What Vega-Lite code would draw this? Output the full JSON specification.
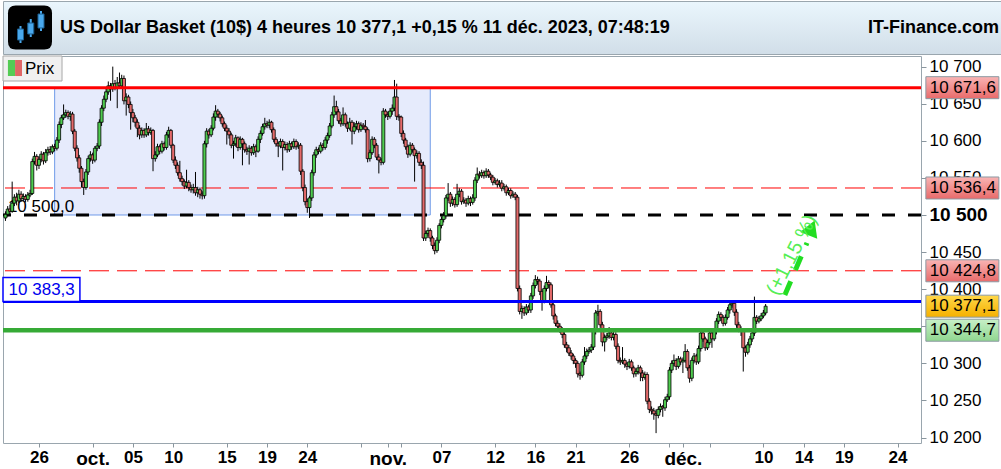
{
"$schema":"https://vega.github.io/schema/vega-lite/v6.json",
"padding":0,"background":"white","spacing":0,
"config":{"font":"Liberation Sans","view":{"stroke":null},"scale":{"continuousPadding":0},"axis":{"labelOverlap":false,"labelFlush":false}},
"datasets":{"candles":[
{"i":-15,"o":10496,"h":10505,"l":10492,"c":10501},{"i":-14,"o":10501,"h":10512,"l":10498,"c":10508},{"i":-13,"o":10508,"h":10514,"l":10501,"c":10505},{"i":-12,"o":10505,"h":10545,"l":10503,"c":10516},{"i":-11,"o":10516,"h":10528,"l":10512,"c":10524},{"i":-10,"o":10524,"h":10530,"l":10513,"c":10519},{"i":-9,"o":10519,"h":10534,"l":10516,"c":10528},{"i":-8,"o":10528,"h":10532,"l":10518,"c":10522},{"i":-7,"o":10522,"h":10529,"l":10519,"c":10525},{"i":-6,"o":10525,"h":10528,"l":10517,"c":10521},{"i":-5,"o":10521,"h":10531,"l":10518,"c":10527},{"i":-4,"o":10527,"h":10534,"l":10524,"c":10529},{"i":-3,"o":10529,"h":10576,"l":10527,"c":10572},{"i":-2,"o":10572,"h":10585,"l":10568,"c":10579},{"i":-1,"o":10579,"h":10582,"l":10560,"c":10567},
{"i":0,"o":10567,"h":10579,"l":10562,"c":10575},{"i":1,"o":10575,"h":10586,"l":10571,"c":10582},{"i":2,"o":10582,"h":10585,"l":10568,"c":10573},{"i":3,"o":10573,"h":10589,"l":10570,"c":10584},{"i":4,"o":10584,"h":10592,"l":10580,"c":10588},{"i":5,"o":10588,"h":10593,"l":10581,"c":10585},{"i":6,"o":10585,"h":10595,"l":10582,"c":10592},{"i":7,"o":10592,"h":10596,"l":10586,"c":10590},{"i":8,"o":10590,"h":10605,"l":10587,"c":10601},{"i":9,"o":10601,"h":10626,"l":10597,"c":10622},
{"i":10,"o":10622,"h":10635,"l":10617,"c":10631},{"i":11,"o":10631,"h":10649,"l":10628,"c":10635},{"i":12,"o":10635,"h":10642,"l":10631,"c":10638},{"i":13,"o":10638,"h":10641,"l":10629,"c":10633},{"i":14,"o":10633,"h":10640,"l":10627,"c":10636},{"i":15,"o":10636,"h":10639,"l":10609,"c":10613},{"i":16,"o":10613,"h":10616,"l":10586,"c":10590},{"i":17,"o":10590,"h":10594,"l":10572,"c":10577},{"i":18,"o":10577,"h":10581,"l":10557,"c":10563},{"i":19,"o":10563,"h":10566,"l":10537,"c":10545},
{"i":20,"o":10545,"h":10549,"l":10527,"c":10537},{"i":21,"o":10537,"h":10562,"l":10534,"c":10558},{"i":22,"o":10558,"h":10580,"l":10554,"c":10576},{"i":23,"o":10576,"h":10586,"l":10572,"c":10581},{"i":24,"o":10581,"h":10584,"l":10569,"c":10574},{"i":25,"o":10574,"h":10593,"l":10571,"c":10590},{"i":26,"o":10590,"h":10597,"l":10586,"c":10593},{"i":27,"o":10593,"h":10629,"l":10589,"c":10625},{"i":28,"o":10625,"h":10648,"l":10620,"c":10644},{"i":29,"o":10644,"h":10661,"l":10640,"c":10656},
{"i":30,"o":10656,"h":10672,"l":10652,"c":10666},{"i":31,"o":10666,"h":10680,"l":10662,"c":10674},{"i":32,"o":10674,"h":10678,"l":10654,"c":10670},{"i":33,"o":10670,"h":10700,"l":10666,"c":10677},{"i":34,"o":10677,"h":10682,"l":10668,"c":10672},{"i":35,"o":10672,"h":10686,"l":10644,"c":10678},{"i":36,"o":10678,"h":10692,"l":10670,"c":10674},{"i":37,"o":10674,"h":10689,"l":10670,"c":10684},{"i":38,"o":10684,"h":10688,"l":10649,"c":10654},{"i":39,"o":10654,"h":10664,"l":10634,"c":10659},
{"i":40,"o":10659,"h":10662,"l":10644,"c":10649},{"i":41,"o":10649,"h":10653,"l":10615,"c":10638},{"i":42,"o":10638,"h":10643,"l":10625,"c":10631},{"i":43,"o":10631,"h":10635,"l":10619,"c":10625},{"i":44,"o":10625,"h":10629,"l":10605,"c":10617},{"i":45,"o":10617,"h":10621,"l":10602,"c":10608},{"i":46,"o":10608,"h":10618,"l":10604,"c":10614},{"i":47,"o":10614,"h":10617,"l":10604,"c":10608},{"i":48,"o":10608,"h":10624,"l":10605,"c":10616},{"i":49,"o":10616,"h":10620,"l":10607,"c":10611},
{"i":50,"o":10611,"h":10618,"l":10608,"c":10614},{"i":51,"o":10614,"h":10616,"l":10559,"c":10576},{"i":52,"o":10576,"h":10586,"l":10572,"c":10581},{"i":53,"o":10581,"h":10596,"l":10578,"c":10592},{"i":54,"o":10592,"h":10595,"l":10582,"c":10586},{"i":55,"o":10586,"h":10600,"l":10583,"c":10596},{"i":56,"o":10596,"h":10599,"l":10587,"c":10591},{"i":57,"o":10591,"h":10612,"l":10588,"c":10608},{"i":58,"o":10608,"h":10619,"l":10604,"c":10614},{"i":59,"o":10614,"h":10616,"l":10590,"c":10594},
{"i":60,"o":10594,"h":10596,"l":10570,"c":10574},{"i":61,"o":10574,"h":10579,"l":10562,"c":10567},{"i":62,"o":10567,"h":10571,"l":10553,"c":10557},{"i":63,"o":10557,"h":10573,"l":10545,"c":10549},{"i":64,"o":10549,"h":10553,"l":10540,"c":10545},{"i":65,"o":10545,"h":10548,"l":10535,"c":10539},{"i":66,"o":10539,"h":10561,"l":10536,"c":10544},{"i":67,"o":10544,"h":10547,"l":10532,"c":10537},{"i":68,"o":10537,"h":10541,"l":10530,"c":10534},{"i":69,"o":10534,"h":10542,"l":10529,"c":10537},
{"i":70,"o":10537,"h":10558,"l":10526,"c":10530},{"i":71,"o":10530,"h":10538,"l":10524,"c":10534},{"i":72,"o":10534,"h":10537,"l":10522,"c":10528},{"i":73,"o":10528,"h":10532,"l":10521,"c":10526},{"i":74,"o":10526,"h":10600,"l":10522,"c":10596},{"i":75,"o":10596,"h":10617,"l":10591,"c":10613},{"i":76,"o":10613,"h":10616,"l":10603,"c":10608},{"i":77,"o":10608,"h":10621,"l":10605,"c":10617},{"i":78,"o":10617,"h":10637,"l":10614,"c":10632},{"i":79,"o":10632,"h":10648,"l":10627,"c":10640},
{"i":80,"o":10640,"h":10643,"l":10631,"c":10636},{"i":81,"o":10636,"h":10639,"l":10626,"c":10631},{"i":82,"o":10631,"h":10634,"l":10619,"c":10623},{"i":83,"o":10623,"h":10626,"l":10613,"c":10617},{"i":84,"o":10617,"h":10621,"l":10595,"c":10613},{"i":85,"o":10613,"h":10617,"l":10603,"c":10608},{"i":86,"o":10608,"h":10611,"l":10590,"c":10594},{"i":87,"o":10594,"h":10600,"l":10576,"c":10596},{"i":88,"o":10596,"h":10608,"l":10592,"c":10604},{"i":89,"o":10604,"h":10606,"l":10586,"c":10591},
{"i":90,"o":10591,"h":10606,"l":10588,"c":10602},{"i":91,"o":10602,"h":10604,"l":10567,"c":10596},{"i":92,"o":10596,"h":10599,"l":10584,"c":10588},{"i":93,"o":10588,"h":10592,"l":10581,"c":10586},{"i":94,"o":10586,"h":10594,"l":10568,"c":10590},{"i":95,"o":10590,"h":10593,"l":10580,"c":10584},{"i":96,"o":10584,"h":10596,"l":10581,"c":10592},{"i":97,"o":10592,"h":10595,"l":10578,"c":10586},{"i":98,"o":10586,"h":10606,"l":10584,"c":10602},{"i":99,"o":10602,"h":10614,"l":10597,"c":10610},
{"i":100,"o":10610,"h":10623,"l":10607,"c":10619},{"i":101,"o":10619,"h":10631,"l":10615,"c":10623},{"i":102,"o":10623,"h":10627,"l":10617,"c":10621},{"i":103,"o":10621,"h":10629,"l":10617,"c":10625},{"i":104,"o":10625,"h":10627,"l":10611,"c":10615},{"i":105,"o":10615,"h":10618,"l":10598,"c":10602},{"i":106,"o":10602,"h":10605,"l":10592,"c":10596},{"i":107,"o":10596,"h":10599,"l":10578,"c":10593},{"i":108,"o":10593,"h":10603,"l":10590,"c":10599},{"i":109,"o":10599,"h":10602,"l":10560,"c":10591},
{"i":110,"o":10591,"h":10599,"l":10587,"c":10595},{"i":111,"o":10595,"h":10598,"l":10584,"c":10588},{"i":112,"o":10588,"h":10600,"l":10585,"c":10596},{"i":113,"o":10596,"h":10599,"l":10588,"c":10592},{"i":114,"o":10592,"h":10603,"l":10589,"c":10599},{"i":115,"o":10599,"h":10602,"l":10588,"c":10592},{"i":116,"o":10592,"h":10598,"l":10589,"c":10594},{"i":117,"o":10594,"h":10597,"l":10554,"c":10559},{"i":118,"o":10559,"h":10562,"l":10532,"c":10537},{"i":119,"o":10537,"h":10541,"l":10513,"c":10518},
{"i":120,"o":10518,"h":10522,"l":10503,"c":10510},{"i":121,"o":10510,"h":10526,"l":10496,"c":10523},{"i":122,"o":10523,"h":10561,"l":10519,"c":10557},{"i":123,"o":10557,"h":10585,"l":10553,"c":10581},{"i":124,"o":10581,"h":10592,"l":10577,"c":10588},{"i":125,"o":10588,"h":10591,"l":10582,"c":10586},{"i":126,"o":10586,"h":10598,"l":10583,"c":10594},{"i":127,"o":10594,"h":10597,"l":10587,"c":10591},{"i":128,"o":10591,"h":10605,"l":10588,"c":10601},{"i":129,"o":10601,"h":10611,"l":10596,"c":10607},
{"i":130,"o":10607,"h":10624,"l":10604,"c":10620},{"i":131,"o":10620,"h":10639,"l":10617,"c":10635},{"i":132,"o":10635,"h":10661,"l":10631,"c":10646},{"i":133,"o":10646,"h":10654,"l":10635,"c":10639},{"i":134,"o":10639,"h":10643,"l":10623,"c":10627},{"i":135,"o":10627,"h":10631,"l":10619,"c":10623},{"i":136,"o":10623,"h":10645,"l":10620,"c":10635},{"i":137,"o":10635,"h":10638,"l":10619,"c":10623},{"i":138,"o":10623,"h":10626,"l":10612,"c":10617},{"i":139,"o":10617,"h":10631,"l":10614,"c":10625},
{"i":140,"o":10625,"h":10628,"l":10595,"c":10613},{"i":141,"o":10613,"h":10625,"l":10609,"c":10619},{"i":142,"o":10619,"h":10627,"l":10615,"c":10623},{"i":143,"o":10623,"h":10626,"l":10611,"c":10615},{"i":144,"o":10615,"h":10625,"l":10612,"c":10621},{"i":145,"o":10621,"h":10624,"l":10615,"c":10619},{"i":146,"o":10619,"h":10628,"l":10611,"c":10615},{"i":147,"o":10615,"h":10618,"l":10571,"c":10576},{"i":148,"o":10576,"h":10588,"l":10572,"c":10584},{"i":149,"o":10584,"h":10606,"l":10581,"c":10602},
{"i":150,"o":10602,"h":10605,"l":10590,"c":10594},{"i":151,"o":10594,"h":10597,"l":10574,"c":10578},{"i":152,"o":10578,"h":10582,"l":10556,"c":10574},{"i":153,"o":10574,"h":10577,"l":10567,"c":10571},{"i":154,"o":10571,"h":10644,"l":10568,"c":10640},{"i":155,"o":10640,"h":10643,"l":10631,"c":10635},{"i":156,"o":10635,"h":10639,"l":10628,"c":10633},{"i":157,"o":10633,"h":10644,"l":10630,"c":10640},{"i":158,"o":10640,"h":10649,"l":10635,"c":10644},{"i":159,"o":10644,"h":10682,"l":10640,"c":10659},
{"i":160,"o":10659,"h":10677,"l":10628,"c":10633},{"i":161,"o":10633,"h":10636,"l":10627,"c":10632},{"i":162,"o":10632,"h":10634,"l":10605,"c":10610},{"i":163,"o":10610,"h":10614,"l":10596,"c":10601},{"i":164,"o":10601,"h":10604,"l":10588,"c":10592},{"i":165,"o":10592,"h":10595,"l":10577,"c":10582},{"i":166,"o":10582,"h":10598,"l":10579,"c":10594},{"i":167,"o":10594,"h":10597,"l":10584,"c":10588},{"i":168,"o":10588,"h":10591,"l":10545,"c":10580},{"i":169,"o":10580,"h":10587,"l":10576,"c":10583},
{"i":170,"o":10583,"h":10586,"l":10566,"c":10571},{"i":171,"o":10571,"h":10575,"l":10562,"c":10567},{"i":172,"o":10567,"h":10572,"l":10465,"c":10469},{"i":173,"o":10469,"h":10479,"l":10465,"c":10475},{"i":174,"o":10475,"h":10483,"l":10471,"c":10479},{"i":175,"o":10479,"h":10482,"l":10464,"c":10469},{"i":176,"o":10469,"h":10472,"l":10454,"c":10459},{"i":177,"o":10459,"h":10463,"l":10447,"c":10452},{"i":178,"o":10452,"h":10470,"l":10449,"c":10466},{"i":179,"o":10466,"h":10489,"l":10462,"c":10486},
{"i":180,"o":10486,"h":10498,"l":10482,"c":10494},{"i":181,"o":10494,"h":10504,"l":10490,"c":10499},{"i":182,"o":10499,"h":10527,"l":10495,"c":10523},{"i":183,"o":10523,"h":10543,"l":10519,"c":10528},{"i":184,"o":10528,"h":10531,"l":10511,"c":10516},{"i":185,"o":10516,"h":10525,"l":10512,"c":10521},{"i":186,"o":10521,"h":10524,"l":10510,"c":10514},{"i":187,"o":10514,"h":10542,"l":10511,"c":10528},{"i":188,"o":10528,"h":10536,"l":10524,"c":10532},{"i":189,"o":10532,"h":10535,"l":10514,"c":10518},
{"i":190,"o":10518,"h":10524,"l":10515,"c":10520},{"i":191,"o":10520,"h":10523,"l":10511,"c":10516},{"i":192,"o":10516,"h":10526,"l":10513,"c":10522},{"i":193,"o":10522,"h":10525,"l":10512,"c":10517},{"i":194,"o":10517,"h":10528,"l":10514,"c":10523},{"i":195,"o":10523,"h":10551,"l":10519,"c":10547},{"i":196,"o":10547,"h":10564,"l":10543,"c":10555},{"i":197,"o":10555,"h":10559,"l":10549,"c":10553},{"i":198,"o":10553,"h":10561,"l":10550,"c":10557},{"i":199,"o":10557,"h":10560,"l":10549,"c":10553},
{"i":200,"o":10553,"h":10563,"l":10550,"c":10559},{"i":201,"o":10559,"h":10562,"l":10550,"c":10554},{"i":202,"o":10554,"h":10557,"l":10547,"c":10551},{"i":203,"o":10551,"h":10554,"l":10540,"c":10544},{"i":204,"o":10544,"h":10550,"l":10541,"c":10546},{"i":205,"o":10546,"h":10549,"l":10537,"c":10541},{"i":206,"o":10541,"h":10547,"l":10538,"c":10543},{"i":207,"o":10543,"h":10547,"l":10532,"c":10536},{"i":208,"o":10536,"h":10542,"l":10533,"c":10538},{"i":209,"o":10538,"h":10541,"l":10526,"c":10530},
{"i":210,"o":10530,"h":10537,"l":10527,"c":10533},{"i":211,"o":10533,"h":10536,"l":10522,"c":10526},{"i":212,"o":10526,"h":10532,"l":10523,"c":10528},{"i":213,"o":10528,"h":10531,"l":10520,"c":10524},{"i":214,"o":10524,"h":10527,"l":10397,"c":10401},{"i":215,"o":10401,"h":10405,"l":10366,"c":10370},{"i":216,"o":10370,"h":10378,"l":10360,"c":10374},{"i":217,"o":10374,"h":10377,"l":10364,"c":10368},{"i":218,"o":10368,"h":10380,"l":10365,"c":10376},{"i":219,"o":10376,"h":10379,"l":10368,"c":10372},
{"i":220,"o":10372,"h":10395,"l":10368,"c":10391},{"i":221,"o":10391,"h":10409,"l":10387,"c":10405},{"i":222,"o":10405,"h":10419,"l":10401,"c":10413},{"i":223,"o":10413,"h":10417,"l":10406,"c":10411},{"i":224,"o":10411,"h":10414,"l":10392,"c":10397},{"i":225,"o":10397,"h":10400,"l":10371,"c":10384},{"i":226,"o":10384,"h":10405,"l":10381,"c":10401},{"i":227,"o":10401,"h":10418,"l":10397,"c":10409},{"i":228,"o":10409,"h":10412,"l":10401,"c":10406},{"i":229,"o":10406,"h":10409,"l":10375,"c":10379},
{"i":230,"o":10379,"h":10383,"l":10359,"c":10364},{"i":231,"o":10364,"h":10367,"l":10350,"c":10354},{"i":232,"o":10354,"h":10358,"l":10346,"c":10350},{"i":233,"o":10350,"h":10354,"l":10341,"c":10345},{"i":234,"o":10345,"h":10349,"l":10334,"c":10339},{"i":235,"o":10339,"h":10342,"l":10321,"c":10325},{"i":236,"o":10325,"h":10329,"l":10315,"c":10321},{"i":237,"o":10321,"h":10325,"l":10310,"c":10314},{"i":238,"o":10314,"h":10318,"l":10305,"c":10310},{"i":239,"o":10310,"h":10313,"l":10299,"c":10304},
{"i":240,"o":10304,"h":10307,"l":10294,"c":10300},{"i":241,"o":10300,"h":10303,"l":10281,"c":10286},{"i":242,"o":10286,"h":10289,"l":10278,"c":10284},{"i":243,"o":10284,"h":10306,"l":10281,"c":10302},{"i":244,"o":10302,"h":10322,"l":10298,"c":10310},{"i":245,"o":10310,"h":10320,"l":10306,"c":10316},{"i":246,"o":10316,"h":10322,"l":10313,"c":10318},{"i":247,"o":10318,"h":10326,"l":10314,"c":10322},{"i":248,"o":10322,"h":10347,"l":10318,"c":10343},{"i":249,"o":10343,"h":10372,"l":10339,"c":10368},
{"i":250,"o":10368,"h":10379,"l":10364,"c":10370},{"i":251,"o":10370,"h":10373,"l":10348,"c":10352},{"i":252,"o":10352,"h":10356,"l":10323,"c":10329},{"i":253,"o":10329,"h":10339,"l":10316,"c":10335},{"i":254,"o":10335,"h":10341,"l":10331,"c":10337},{"i":255,"o":10337,"h":10349,"l":10333,"c":10341},{"i":256,"o":10341,"h":10344,"l":10331,"c":10335},{"i":257,"o":10335,"h":10343,"l":10331,"c":10339},{"i":258,"o":10339,"h":10342,"l":10319,"c":10323},{"i":259,"o":10323,"h":10327,"l":10300,"c":10304},
{"i":260,"o":10304,"h":10308,"l":10298,"c":10302},{"i":261,"o":10302,"h":10322,"l":10299,"c":10304},{"i":262,"o":10304,"h":10307,"l":10294,"c":10299},{"i":263,"o":10299,"h":10302,"l":10291,"c":10296},{"i":264,"o":10296,"h":10306,"l":10293,"c":10302},{"i":265,"o":10302,"h":10305,"l":10290,"c":10294},{"i":266,"o":10294,"h":10297,"l":10281,"c":10286},{"i":267,"o":10286,"h":10293,"l":10282,"c":10289},{"i":268,"o":10289,"h":10298,"l":10285,"c":10294},{"i":269,"o":10294,"h":10297,"l":10276,"c":10287},
{"i":270,"o":10287,"h":10291,"l":10276,"c":10281},{"i":271,"o":10281,"h":10289,"l":10278,"c":10285},{"i":272,"o":10285,"h":10288,"l":10245,"c":10249},{"i":273,"o":10249,"h":10253,"l":10233,"c":10238},{"i":274,"o":10238,"h":10242,"l":10231,"c":10236},{"i":275,"o":10236,"h":10240,"l":10224,"c":10232},{"i":276,"o":10232,"h":10238,"l":10206,"c":10230},{"i":277,"o":10230,"h":10242,"l":10226,"c":10238},{"i":278,"o":10238,"h":10246,"l":10234,"c":10242},{"i":279,"o":10242,"h":10244,"l":10228,"c":10240},
{"i":280,"o":10240,"h":10255,"l":10236,"c":10251},{"i":281,"o":10251,"h":10259,"l":10248,"c":10255},{"i":282,"o":10255,"h":10295,"l":10251,"c":10291},{"i":283,"o":10291,"h":10304,"l":10287,"c":10300},{"i":284,"o":10300,"h":10312,"l":10296,"c":10304},{"i":285,"o":10304,"h":10307,"l":10291,"c":10296},{"i":286,"o":10296,"h":10310,"l":10293,"c":10306},{"i":287,"o":10306,"h":10309,"l":10298,"c":10302},{"i":288,"o":10302,"h":10308,"l":10287,"c":10304},{"i":289,"o":10304,"h":10326,"l":10301,"c":10316},
{"i":290,"o":10316,"h":10319,"l":10290,"c":10294},{"i":291,"o":10294,"h":10298,"l":10274,"c":10280},{"i":292,"o":10280,"h":10308,"l":10276,"c":10304},{"i":293,"o":10304,"h":10314,"l":10300,"c":10310},{"i":294,"o":10310,"h":10313,"l":10298,"c":10302},{"i":295,"o":10302,"h":10324,"l":10299,"c":10320},{"i":296,"o":10320,"h":10345,"l":10316,"c":10341},{"i":297,"o":10341,"h":10344,"l":10329,"c":10333},{"i":298,"o":10333,"h":10336,"l":10317,"c":10321},{"i":299,"o":10321,"h":10332,"l":10318,"c":10328},
{"i":300,"o":10328,"h":10345,"l":10325,"c":10341},{"i":301,"o":10341,"h":10344,"l":10321,"c":10333},{"i":302,"o":10333,"h":10347,"l":10330,"c":10343},{"i":303,"o":10343,"h":10361,"l":10339,"c":10357},{"i":304,"o":10357,"h":10370,"l":10353,"c":10366},{"i":305,"o":10366,"h":10369,"l":10357,"c":10362},{"i":306,"o":10362,"h":10365,"l":10350,"c":10354},{"i":307,"o":10354,"h":10366,"l":10351,"c":10362},{"i":308,"o":10362,"h":10376,"l":10359,"c":10372},{"i":309,"o":10372,"h":10383,"l":10367,"c":10379},
{"i":310,"o":10379,"h":10385,"l":10375,"c":10381},{"i":311,"o":10381,"h":10384,"l":10364,"c":10369},{"i":312,"o":10369,"h":10373,"l":10348,"c":10352},{"i":313,"o":10352,"h":10356,"l":10342,"c":10347},{"i":314,"o":10347,"h":10350,"l":10337,"c":10343},{"i":315,"o":10343,"h":10346,"l":10289,"c":10321},{"i":316,"o":10321,"h":10324,"l":10309,"c":10315},{"i":317,"o":10315,"h":10329,"l":10312,"c":10325},{"i":318,"o":10325,"h":10337,"l":10321,"c":10333},{"i":319,"o":10333,"h":10345,"l":10329,"c":10341},
{"i":320,"o":10341,"h":10390,"l":10337,"c":10362},{"i":321,"o":10362,"h":10365,"l":10353,"c":10357},{"i":322,"o":10357,"h":10364,"l":10354,"c":10360},{"i":323,"o":10360,"h":10368,"l":10357,"c":10364},{"i":324,"o":10364,"h":10372,"l":10361,"c":10368},{"i":325,"o":10368,"h":10380,"l":10365,"c":10377.1}
],
"levels":[{"v":10671.6,"t":"10 671,6","k":"res","at":413,"tx":398.4},{"v":10536.4,"t":"10 536,4","k":"res","at":413,"tx":398.4},{"v":10424.8,"t":"10 424,8","k":"res","at":413,"tx":398.4},{"v":10377.1,"t":"10 377,1","k":"last","at":413,"tx":398.4},{"v":10344.7,"t":"10 344,7","k":"sup","at":413,"tx":398.4}]
},
"vconcat":[
{
"width":1001,"height":53,
"view":{"fill":{"gradient":"linear","x1":0,"y1":0,"x2":0,"y2":1,"stops":[{"offset":0,"color":"#eaf6fd"},{"offset":1,"color":"#d1dee8"}]},"stroke":"#9aa6ae","strokeWidth":1},
"resolve":{"scale":{"x":"independent","y":"independent"}},
"layer":[
{"data":{"values":[{"k":"logo"}]},
 "mark":{"type":"point","shape":"M-1,-0.65 Q-1,-1 -0.65,-1 L0.65,-1 Q1,-1 1,-0.65 L1,0.65 Q1,1 0.65,1 L-0.65,1 Q-1,1 -1,0.65 Z","size":1936,"filled":true,"color":"black","opacity":1},
 "encoding":{"x":{"field":"k","type":"nominal","scale":{"type":"point","domain":["logo"],"range":[27,27],"padding":0},"axis":null}}},
{"data":{"values":[{"k":"a","lo":0.75,"hi":5,"b0":1.5,"b1":4.25},{"k":"b","lo":2.25,"hi":6.75,"b0":3,"b1":5.75},{"k":"c","lo":3.75,"hi":8.75,"b0":4.5,"b1":8}]},
 "layer":[
  {"mark":{"type":"rule","color":"#4aa8ec","strokeWidth":2},
   "encoding":{"x":{"field":"k","type":"nominal","scale":{"type":"point","domain":["a","b","c"],"range":[17.5,38],"padding":0},"axis":null},
     "y":{"field":"lo","type":"quantitative","scale":{"domain":[0,10],"range":[45,5]},"axis":null},"y2":{"field":"hi"}}},
  {"mark":{"type":"bar","width":6,"color":"#4aa8ec","stroke":"#1d5f90","strokeWidth":1},
   "encoding":{"x":{"field":"k","type":"nominal","scale":{"type":"point","domain":["a","b","c"],"range":[17.5,38],"padding":0},"axis":null},
     "y":{"field":"b0","type":"quantitative","scale":{"domain":[0,10],"range":[45,5]},"axis":null},"y2":{"field":"b1"}}}
 ]},
{"data":{"values":[{"k":"t","s":"US Dollar Basket (10$) 4 heures 10 377,1 +0,15 % 11 déc. 2023, 07:48:19"}]},
 "mark":{"type":"text","align":"left","baseline":"middle","fontSize":18,"fontWeight":"bold","color":"black"},
 "encoding":{"x":{"field":"k","type":"nominal","scale":{"type":"point","domain":["t"],"range":[57,57],"padding":0},"axis":null},"text":{"field":"s"}}},
{"data":{"values":[{"k":"r","s":"IT-Finance.com"}]},
 "mark":{"type":"text","align":"right","baseline":"middle","fontSize":18,"fontWeight":"bold","color":"black"},
 "encoding":{"x":{"field":"k","type":"nominal","scale":{"type":"point","domain":["r"],"range":[996,996],"padding":0},"axis":null},"text":{"field":"s"}}}
]
},
{
"width":918,"height":387,
"view":{"fill":"white","stroke":"#9aa6ae","strokeWidth":1},
"encoding":{
 "x":{"field":"i","type":"quantitative","scale":{"domain":[-16.1,394.5],"nice":false,"zero":false,"padding":0},
   "axis":{"title":null,"grid":false,"domain":false,"tickSize":4,"tickColor":"#8a969e","labelColor":"black","labelFontWeight":"bold","labelPadding":2,"labelFlush":false,"labelOverlap":false,
     "values":[0,24,42,60,84,102,120,144,156,162,180,204,222,240,264,282,288,300,324,342,360,384],
     "labelExpr":"indexof([0,24,42,60,84,102,120,156,180,204,222,240,264,288,324,342,360,384], datum.value) >= 0 ? ['26','oct.','05','10','15','19','24','nov.','07','12','16','21','26','déc.','10','14','19','24'][indexof([0,24,42,60,84,102,120,156,180,204,222,240,264,288,324,342,360,384], datum.value)] : ''",
     "labelFontSize":{"condition":{"test":"datum.value == 24 || datum.value == 156 || datum.value == 288","value":19},"value":17}}},
 "y":{"field":"l","type":"quantitative","scale":{"domain":[10192.7,10714.3],"nice":false,"zero":false,"padding":0},
   "axis":{"title":null,"orient":"right","grid":false,"domain":false,"tickSize":5,"tickColor":"#8a969e","labelColor":"black","labelPadding":3,"labelFlush":false,"labelOverlap":false,
     "values":[10200,10250,10300,10350,10400,10450,10500,10550,10600,10650,10700],
     "labelExpr":"replace(format(datum.value, ','), ',', ' ')",
     "labelFontSize":{"condition":{"test":"datum.value == 10500","value":19},"value":17},
     "labelFontWeight":{"condition":{"test":"datum.value == 10500","value":"bold"},"value":"normal"}}}
},
"layer":[
{"data":{"values":[{"from":7.0,"to":175.0,"low":10500,"high":10671.6}]},"mark":{"type":"rect","fill":"#e6ebfc","stroke":"#6f9be8","strokeWidth":1},
 "encoding":{"x":{"field":"from"},"x2":{"field":"to"},"y":{"field":"low"},"y2":{"field":"high"}}},
{"data":{"values":[{"v":10536.4},{"v":10424.8}]},"mark":{"type":"rule","color":"#ff0000","strokeWidth":1,"strokeDash":[20,8]},
 "encoding":{"x":null,"y":{"field":"v"}}},
{"data":{"values":[{"v":10500}]},"mark":{"type":"rule","color":"black","strokeWidth":3,"strokeDash":[13,13]},
 "encoding":{"x":null,"y":{"field":"v"}}},
{"data":{"values":[{"t":"10 500,0","at":-13.9,"v":10510.8}]},"mark":{"type":"text","align":"left","baseline":"middle","fontSize":17,"color":"black"},
 "encoding":{"x":{"field":"at"},"y":{"field":"v"},"text":{"field":"t"}}},
{"data":{"name":"candles"},"mark":{"type":"rule","color":"black","strokeWidth":1},
 "encoding":{"y2":{"field":"h"}}},
{"data":{"name":"candles"},"mark":{"type":"bar","width":3,"stroke":"black","strokeWidth":0.8},
 "encoding":{"y":{"field":"o"},"y2":{"field":"c"},
   "fill":{"condition":{"test":"datum.c >= datum.o","value":"#4fcc4f"},"value":"#e46a6a"}}},
{"data":{"values":[{"v":10671.6}]},"mark":{"type":"rule","color":"#ff0000","strokeWidth":3},
 "encoding":{"x":null,"y":{"field":"v"}}},
{"data":{"values":[{"v":10383.3}]},"mark":{"type":"rule","color":"#0000ff","strokeWidth":3},
 "encoding":{"x":null,"y":{"field":"v"}}},
{"data":{"values":[{"v":10344.7}]},"mark":{"type":"rule","color":"#36aa36","strokeWidth":4.5},
 "encoding":{"x":null,"y":{"field":"v"}}},
{"data":{"values":[{"from":-16.1,"to":18.3,"low":10383.3,"high":10415.6}]},"mark":{"type":"rect","fill":"white","stroke":"#0000ff","strokeWidth":1.5},
 "encoding":{"x":{"field":"from"},"x2":{"field":"to"},"y":{"field":"low"},"y2":{"field":"high"}}},
{"data":{"values":[{"t":"10 383,3","at":-13.6,"v":10399.5}]},"mark":{"type":"text","align":"left","baseline":"middle","fontSize":17,"color":"#0000ee"},
 "encoding":{"x":{"field":"at"},"y":{"field":"v"},"text":{"field":"t"}}},
{"data":{"values":[{"from":-16.1,"to":10.3,"low":10680.6,"high":10714.3}]},"mark":{"type":"rect","fill":"#f0f0f0","stroke":"#a8a8a8","strokeWidth":1},
 "encoding":{"x":{"field":"from"},"x2":{"field":"to"},"y":{"field":"low"},"y2":{"field":"high"}}},
{"data":{"values":[{"from":-13.9,"to":-10.7,"low":10687.3,"high":10708.9}]},"mark":{"type":"rect","fill":"#55cc55"},
 "encoding":{"x":{"field":"from"},"x2":{"field":"to"},"y":{"field":"low"},"y2":{"field":"high"}}},
{"data":{"values":[{"from":-10.7,"to":-7.6,"low":10687.3,"high":10708.9}]},"mark":{"type":"rect","fill":"#e06666"},
 "encoding":{"x":{"field":"from"},"x2":{"field":"to"},"y":{"field":"low"},"y2":{"field":"high"}}},
{"data":{"values":[{"t":"Prix","at":-6.3,"v":10696.8}]},"mark":{"type":"text","align":"left","baseline":"middle","fontSize":17,"color":"black"},
 "encoding":{"x":{"field":"at"},"y":{"field":"v"},"text":{"field":"t"}}},
{"data":{"name":"levels"},"transform":[{"filter":"datum.k == 'res'"}],
 "mark":{"type":"tick","orient":"horizontal","size":73,"thickness":22,"stroke":"#8c9aa3","strokeWidth":1,"opacity":1,
   "fill":{"gradient":"linear","x1":0,"y1":0,"x2":0,"y2":1,"stops":[{"offset":0,"color":"#f9b4b4"},{"offset":1,"color":"#e86a6a"}]}},
 "encoding":{"x":{"field":"at"},"y":{"field":"v"}}},
{"data":{"name":"levels"},"transform":[{"filter":"datum.k == 'last'"}],
 "mark":{"type":"tick","orient":"horizontal","size":73,"thickness":22,"stroke":"#8c9aa3","strokeWidth":1,"opacity":1,
   "fill":{"gradient":"linear","x1":0,"y1":0,"x2":0,"y2":1,"stops":[{"offset":0,"color":"#ffd84a"},{"offset":1,"color":"#f5b000"}]}},
 "encoding":{"x":{"field":"at"},"y":{"field":"v"}}},
{"data":{"name":"levels"},"transform":[{"filter":"datum.k == 'sup'"}],
 "mark":{"type":"tick","orient":"horizontal","size":73,"thickness":22,"stroke":"#8c9aa3","strokeWidth":1,"opacity":1,
   "fill":{"gradient":"linear","x1":0,"y1":0,"x2":0,"y2":1,"stops":[{"offset":0,"color":"#c8f0c8"},{"offset":1,"color":"#8fd68f"}]}},
 "encoding":{"x":{"field":"at"},"y":{"field":"v"}}},
{"data":{"name":"levels"},"mark":{"type":"text","align":"left","baseline":"middle","fontSize":17,"color":"black"},
 "encoding":{"x":{"field":"tx"},"y":{"field":"v"},"text":{"field":"t"}}},
{"data":{"values":[{"from":333.6,"to":343.5,"low":10392.2,"high":10462.4}]},"mark":{"type":"rule","color":"#22dd22","strokeWidth":5,"strokeDash":[15,12],"strokeCap":"butt"},
 "encoding":{"x":{"field":"from"},"x2":{"field":"to"},"y":{"field":"low"},"y2":{"field":"high"}}},
{"data":{"values":[{"at":345.6,"v":10482.5}]},"mark":{"type":"point","shape":"triangle-up","filled":true,"size":340,"angle":22,"color":"#22dd22","opacity":1},
 "encoding":{"x":{"field":"at"},"y":{"field":"v"}}},
{"data":{"values":[{"t":"(+1,15 %)","at":336.8,"v":10446.1}]},"mark":{"type":"text","align":"center","baseline":"middle","fontSize":20,"angle":297,"color":"#55ee55"},
 "encoding":{"x":{"field":"at"},"y":{"field":"v"},"text":{"field":"t"}}}
]
}
]
}
